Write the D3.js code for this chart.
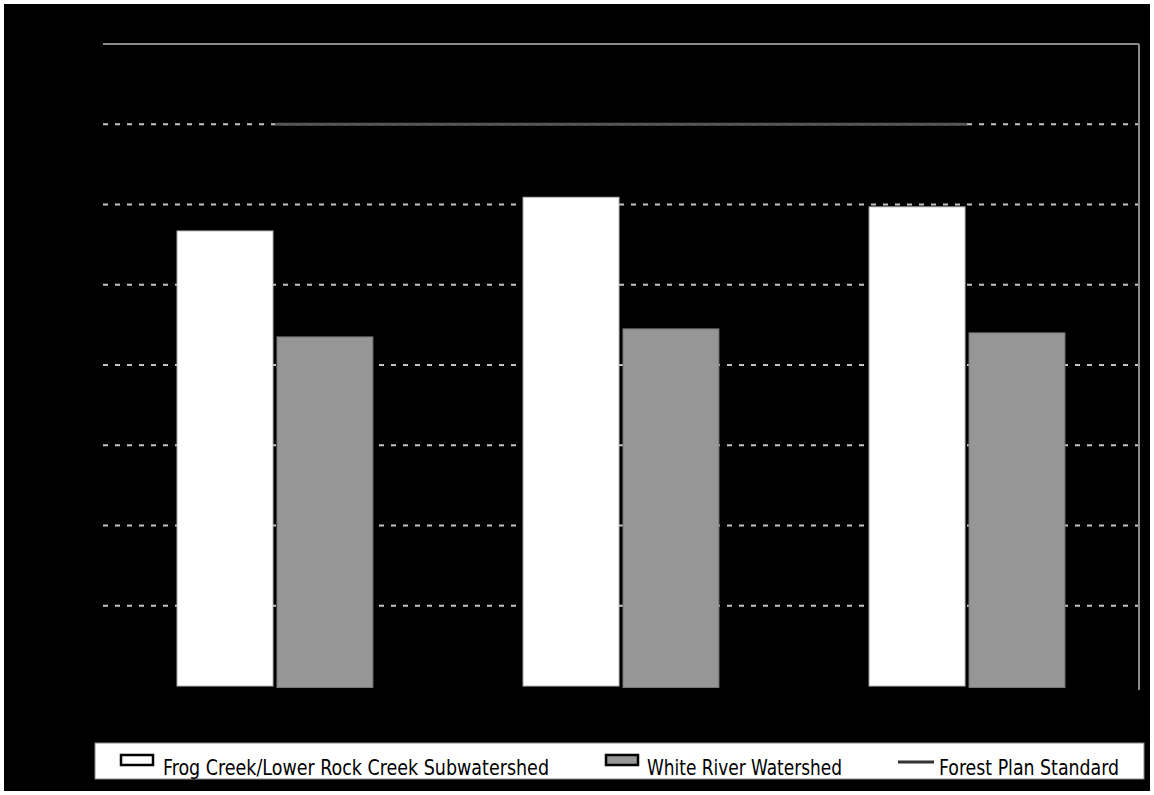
<!DOCTYPE html>
<html>
<head>
<meta charset="utf-8">
<script src="https://cdn.jsdelivr.net/npm/d3@7"></script>
<style>
  html, body { margin: 0; padding: 0; background: #fff; }
  svg { display: block; }
</style>
</head>
<body>
<script>
// data (no axis labels are visible, units arbitrary)
const categories = ["A", "B", "C"];
const seriesNames = ["Frog Creek/Lower Rock Creek Subwatershed", "White River Watershed"];
const frogCreek = [56.7, 60.9, 59.7];
const whiteRiver = [43.5, 44.5, 44.0];
const standard = [70, 70, 70];
const yTicks = [10, 20, 30, 40, 50, 60, 70];
const legendLabels = ["Frog Creek/Lower Rock Creek Subwatershed", "White River Watershed", "Forest Plan Standard"];

const W = 1154, H = 795;
const margin = {top: 44, right: 15, bottom: 109, left: 103};
const width = W - margin.left - margin.right;
const height = H - margin.top - margin.bottom;

const svg = d3.select("body").append("svg")
    .attr("width", W)
    .attr("height", H);

// black background with thin white frame at edges
svg.append("rect").attr("width", W).attr("height", H).attr("fill", "#fff");
svg.append("rect").attr("x", 4).attr("y", 4).attr("width", W - 8).attr("height", H - 8).attr("fill", "#000");

const g = svg.append("g").attr("transform", `translate(${margin.left},${margin.top})`);

// scales
const x = d3.scaleBand().domain(categories).range([0, width]).paddingInner(0.434).paddingOuter(0.214);
const xs = d3.scaleBand().domain(seriesNames).range([0, x.bandwidth()]).paddingInner(0.04);
const y = d3.scaleLinear().domain([0, 80]).range([height, 0]);

// dashed grid lines
g.append("g")
    .selectAll("line")
    .data(yTicks)
    .join("line")
    .attr("x1", 0).attr("x2", width)
    .attr("y1", d => y(d)).attr("y2", d => y(d))
    .attr("stroke", "#c4c4c4")
    .attr("stroke-width", 2)
    .attr("stroke-dasharray", "5,7");

// top border + right axis
g.append("line").attr("x1", 0).attr("x2", width).attr("y1", y(80)).attr("y2", y(80))
    .attr("stroke", "#8a8a8a").attr("stroke-width", 2);
g.append("line").attr("x1", width).attr("x2", width).attr("y1", y(80)).attr("y2", height + 4)
    .attr("stroke", "#8a8a8a").attr("stroke-width", 2);

// bars
const rows = categories.map((c, i) => ({cat: c, vals: [frogCreek[i], whiteRiver[i]]}));
const fills = ["#ffffff", "#969696"];
const groups = g.append("g").selectAll("g")
    .data(rows)
    .join("g")
    .attr("transform", d => `translate(${x(d.cat)},0)`);

groups.selectAll("rect")
    .data(d => d.vals.map((v, j) => ({name: seriesNames[j], v, j})))
    .join("rect")
    .attr("x", d => xs(d.name))
    .attr("y", d => y(d.v))
    .attr("width", xs.bandwidth())
    .attr("height", d => y(0) - y(d.v) + (d.j === 1 ? 1.5 : 0))
    .attr("fill", d => fills[d.j])
    .attr("stroke", d => d.j === 0 ? "#bbb" : "#777")
    .attr("stroke-width", 1);

// Forest Plan Standard line through category centres
const line = d3.line()
    .x((d, i) => x(categories[i]) + x.bandwidth() / 2)
    .y(d => y(d));
g.append("path")
    .datum(standard)
    .attr("d", line)
    .attr("fill", "none")
    .attr("stroke", "#555")
    .attr("stroke-width", 3);

// legend
const legend = svg.append("g");
legend.append("rect")
    .attr("x", 95).attr("y", 743)
    .attr("width", 1049).attr("height", 36)
    .attr("fill", "#fff")
    .attr("stroke", "#888")
    .attr("stroke-width", 1);

const items = [
    {sw: 121, tx: 163, tw: 386, type: "rect", fill: "#fff"},
    {sw: 606, tx: 647, tw: 195, type: "rect", fill: "#969696"},
    {sw: 898, tx: 939, tw: 180, type: "line"}
];
items.forEach((it, i) => {
    if (it.type === "rect") {
        legend.append("rect")
            .attr("x", it.sw).attr("y", 755)
            .attr("width", 32).attr("height", 10)
            .attr("fill", it.fill)
            .attr("stroke", "#000")
            .attr("stroke-width", 2.5);
    } else {
        legend.append("line")
            .attr("x1", it.sw).attr("x2", it.sw + 36)
            .attr("y1", 762).attr("y2", 762)
            .attr("stroke", "#333")
            .attr("stroke-width", 3);
    }
    legend.append("text")
        .attr("x", it.tx).attr("y", 775)
        .attr("textLength", it.tw)
        .attr("lengthAdjust", "spacingAndGlyphs")
        .style("font-family", "'Liberation Sans Narrow', 'DejaVu Sans Condensed', sans-serif")
        .style("font-size", "21px")
        .style("fill", "#000")
        .text(legendLabels[i]);
});
</script>
</body>
</html>
